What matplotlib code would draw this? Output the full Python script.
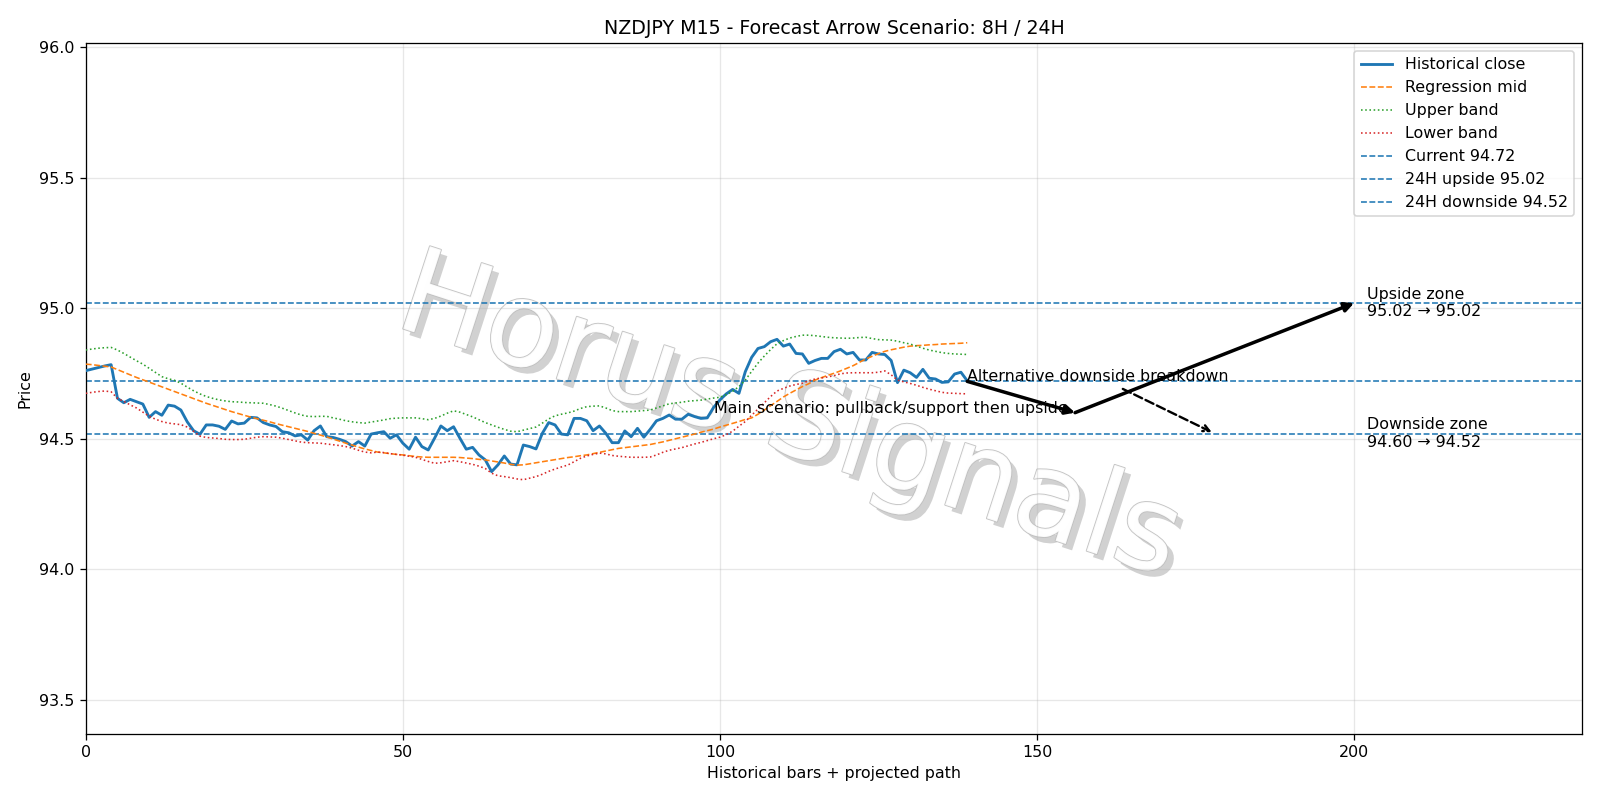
import matplotlib
matplotlib.use("Agg")
import matplotlib.pyplot as plt
import matplotlib.patheffects as pe
import numpy as np

close = [94.761, 94.767, 94.773, 94.779, 94.784, 94.655, 94.638, 94.651, 94.642, 94.633,
         94.582, 94.604, 94.590, 94.629, 94.625, 94.610, 94.565, 94.531, 94.517, 94.553,
         94.553, 94.548, 94.536, 94.568, 94.557, 94.560, 94.582, 94.580, 94.562, 94.553,
         94.547, 94.527, 94.523, 94.511, 94.515, 94.495, 94.531, 94.549, 94.508, 94.505,
         94.498, 94.489, 94.472, 94.489, 94.472, 94.518, 94.523, 94.527, 94.502, 94.515,
         94.483, 94.460, 94.506, 94.470, 94.457, 94.502, 94.549, 94.531, 94.546, 94.502,
         94.460, 94.467, 94.438, 94.419, 94.374, 94.400, 94.434, 94.403, 94.400, 94.476,
         94.470, 94.461, 94.521, 94.562, 94.553, 94.518, 94.515, 94.578, 94.578, 94.569,
         94.531, 94.549, 94.521, 94.485, 94.485, 94.530, 94.508, 94.540, 94.506, 94.536,
         94.569, 94.578, 94.591, 94.575, 94.575, 94.594, 94.585, 94.578, 94.580, 94.620,
         94.649, 94.672, 94.689, 94.674, 94.757, 94.812, 94.846, 94.853, 94.872, 94.881,
         94.855, 94.863, 94.827, 94.825, 94.789, 94.800, 94.808, 94.808, 94.834, 94.843,
         94.825, 94.831, 94.802, 94.802, 94.831, 94.825, 94.823, 94.800, 94.715, 94.763,
         94.753, 94.735, 94.766, 94.732, 94.729, 94.716, 94.718, 94.748, 94.755, 94.722]

reg_mid = [94.786, 94.784, 94.781, 94.778, 94.775, 94.765, 94.755, 94.745, 94.735, 94.726,
           94.717, 94.708, 94.699, 94.690, 94.681, 94.672, 94.663, 94.654, 94.645, 94.636,
           94.628, 94.620, 94.612, 94.604, 94.597, 94.590, 94.583, 94.577, 94.571, 94.565,
           94.558, 94.552, 94.546, 94.540, 94.534, 94.528, 94.521, 94.514, 94.507, 94.499,
           94.491, 94.483, 94.476, 94.468, 94.461, 94.455, 94.449, 94.446, 94.443, 94.440,
           94.438, 94.435, 94.432, 94.430, 94.429, 94.429, 94.429, 94.429, 94.429, 94.428,
           94.426, 94.424, 94.421, 94.419, 94.415, 94.411, 94.407, 94.402, 94.399, 94.400,
           94.404, 94.408, 94.412, 94.416, 94.420, 94.424, 94.428, 94.431, 94.435, 94.438,
           94.443, 94.448, 94.453, 94.458, 94.463, 94.466, 94.469, 94.472, 94.475, 94.478,
           94.483, 94.488, 94.494, 94.500, 94.506, 94.512, 94.518, 94.525, 94.531, 94.537,
           94.545, 94.552, 94.559, 94.566, 94.574, 94.580, 94.594, 94.610, 94.627, 94.643,
           94.660, 94.674, 94.687, 94.700, 94.711, 94.725, 94.734, 94.743, 94.751, 94.760,
           94.770, 94.780, 94.793, 94.806, 94.816, 94.826, 94.835, 94.841, 94.846, 94.851,
           94.855, 94.857, 94.858, 94.860, 94.861, 94.863, 94.864, 94.865, 94.866, 94.868]

upper_band = [94.840, 94.844, 94.847, 94.849, 94.850, 94.840, 94.827, 94.813, 94.799, 94.786,
              94.770, 94.754, 94.738, 94.730, 94.724, 94.713, 94.698, 94.684, 94.672, 94.662,
              94.655, 94.649, 94.645, 94.642, 94.641, 94.639, 94.638, 94.637, 94.636, 94.631,
              94.625, 94.617, 94.608, 94.599, 94.591, 94.586, 94.585, 94.586, 94.586, 94.580,
              94.575, 94.569, 94.565, 94.562, 94.560, 94.564, 94.568, 94.572, 94.577, 94.579,
              94.580, 94.580, 94.580, 94.577, 94.573, 94.578, 94.587, 94.598, 94.607, 94.602,
              94.593, 94.584, 94.573, 94.562, 94.553, 94.544, 94.536, 94.529, 94.527, 94.533,
              94.539, 94.545, 94.560, 94.576, 94.588, 94.594, 94.599, 94.606, 94.616, 94.623,
              94.625, 94.626, 94.618, 94.608, 94.604, 94.604, 94.604, 94.606, 94.608, 94.610,
              94.618, 94.626, 94.634, 94.637, 94.640, 94.644, 94.646, 94.648, 94.652, 94.656,
              94.659, 94.669, 94.682, 94.700, 94.725, 94.758, 94.790, 94.817, 94.842, 94.864,
              94.876, 94.886, 94.892, 94.897, 94.897, 94.895, 94.892, 94.889, 94.887, 94.886,
              94.885, 94.886, 94.888, 94.889, 94.884, 94.880, 94.879, 94.878, 94.874, 94.868,
              94.863, 94.855, 94.847, 94.840, 94.835, 94.830, 94.827, 94.825, 94.824, 94.823]

lower_band = [94.674, 94.678, 94.681, 94.683, 94.680, 94.655, 94.643, 94.630, 94.618, 94.602,
              94.586, 94.575, 94.566, 94.560, 94.557, 94.554, 94.545, 94.529, 94.510, 94.505,
              94.503, 94.501, 94.498, 94.497, 94.497, 94.498, 94.502, 94.506, 94.508, 94.507,
              94.506, 94.502, 94.497, 94.492, 94.487, 94.485, 94.484, 94.483, 94.480, 94.477,
              94.474, 94.470, 94.464, 94.456, 94.449, 94.446, 94.449, 94.447, 94.443, 94.440,
              94.437, 94.433, 94.429, 94.421, 94.413, 94.406, 94.408, 94.412, 94.416, 94.412,
              94.407, 94.402, 94.395, 94.386, 94.368, 94.358, 94.355, 94.351, 94.346, 94.343,
              94.349, 94.355, 94.364, 94.375, 94.384, 94.392, 94.399, 94.412, 94.425, 94.434,
              94.440, 94.445, 94.442, 94.436, 94.433, 94.431, 94.429, 94.429, 94.429, 94.430,
              94.438, 94.448, 94.456, 94.461, 94.466, 94.473, 94.480, 94.486, 94.493, 94.500,
              94.506, 94.516, 94.529, 94.548, 94.566, 94.590, 94.614, 94.638, 94.662, 94.683,
              94.693, 94.702, 94.708, 94.713, 94.722, 94.729, 94.733, 94.737, 94.742, 94.749,
              94.752, 94.753, 94.753, 94.753, 94.753, 94.755, 94.760, 94.745, 94.725, 94.718,
              94.712, 94.705, 94.697, 94.690, 94.684, 94.678, 94.675, 94.674, 94.673, 94.672]

current_price = 94.72
upside_24h = 95.02
downside_24h = 94.52
downside_8h = 94.60

start_bar = 139
pivot_bar = 156
target_bar = 200
alt_bar = 178

DPI = 1600 / 14
fig = plt.figure(figsize=(14, 7), dpi=DPI)
ax = fig.add_axes([0.0536, 0.083, 0.9354, 0.863])

x = np.arange(len(close))
ax.plot(x, close, color="C0", lw=1.8, label="Historical close", zorder=3)
ax.plot(x, reg_mid, color="C1", lw=1, ls="--", label="Regression mid", zorder=3)
ax.plot(x, upper_band, color="C2", lw=1, ls=":", label="Upper band", zorder=3)
ax.plot(x, lower_band, color="C3", lw=1, ls=":", label="Lower band", zorder=3)
ax.axhline(current_price, color="C0", lw=1, ls="--", label=f"Current {current_price:.2f}")
ax.axhline(upside_24h, color="C0", lw=1, ls="--", label=f"24H upside {upside_24h:.2f}")
ax.axhline(downside_24h, color="C0", lw=1, ls="--", label=f"24H downside {downside_24h:.2f}")

# main scenario arrows
ax.annotate("", xy=(pivot_bar, downside_8h), xytext=(start_bar, current_price),
            arrowprops=dict(arrowstyle="-|>", lw=2.2, color="black", shrinkA=0, shrinkB=0,
                            mutation_scale=12))
ax.annotate("", xy=(target_bar, upside_24h), xytext=(pivot_bar, downside_8h),
            arrowprops=dict(arrowstyle="-|>", lw=2.2, color="black", shrinkA=0, shrinkB=0,
                            mutation_scale=12))
ax.text(99, downside_8h, "Main scenario: pullback/support then upside", fontsize=10)

ax.annotate("Alternative downside breakdown", xy=(alt_bar, downside_24h),
            xytext=(start_bar, current_price), fontsize=10,
            arrowprops=dict(arrowstyle="->", lw=1.5, ls="--", color="black"))

ax.text(202, upside_24h, f"Upside zone\n{upside_24h:.2f} \u2192 {upside_24h:.2f}",
        va="center", fontsize=10)
ax.text(202, downside_24h, f"Downside zone\n{downside_8h:.2f} \u2192 {downside_24h:.2f}",
        va="center", fontsize=10)

# watermark
ax.text(0.47, 0.455, "Horus Signals", transform=ax.transAxes, fontsize=75,
        rotation=-18, ha="center", va="center", color="white", alpha=0.9, zorder=1,
        path_effects=[pe.withSimplePatchShadow(offset=(4, -4), shadow_rgbFace="black", alpha=0.18),
                      pe.Stroke(linewidth=1.1, foreground="#bdbdbd"), pe.Normal()])

ax.set_xlim(0, 236)
ax.set_ylim(93.37, 96.016)
ax.set_xticks([0, 50, 100, 150, 200])
ax.set_yticks([93.5, 94.0, 94.5, 95.0, 95.5, 96.0])
ax.grid(True, alpha=0.3)
ax.set_title("NZDJPY M15 - Forecast Arrow Scenario: 8H / 24H")
ax.set_xlabel("Historical bars + projected path")
ax.set_ylabel("Price")
ax.legend(loc="upper right")

fig.savefig("out.png", dpi=DPI)
